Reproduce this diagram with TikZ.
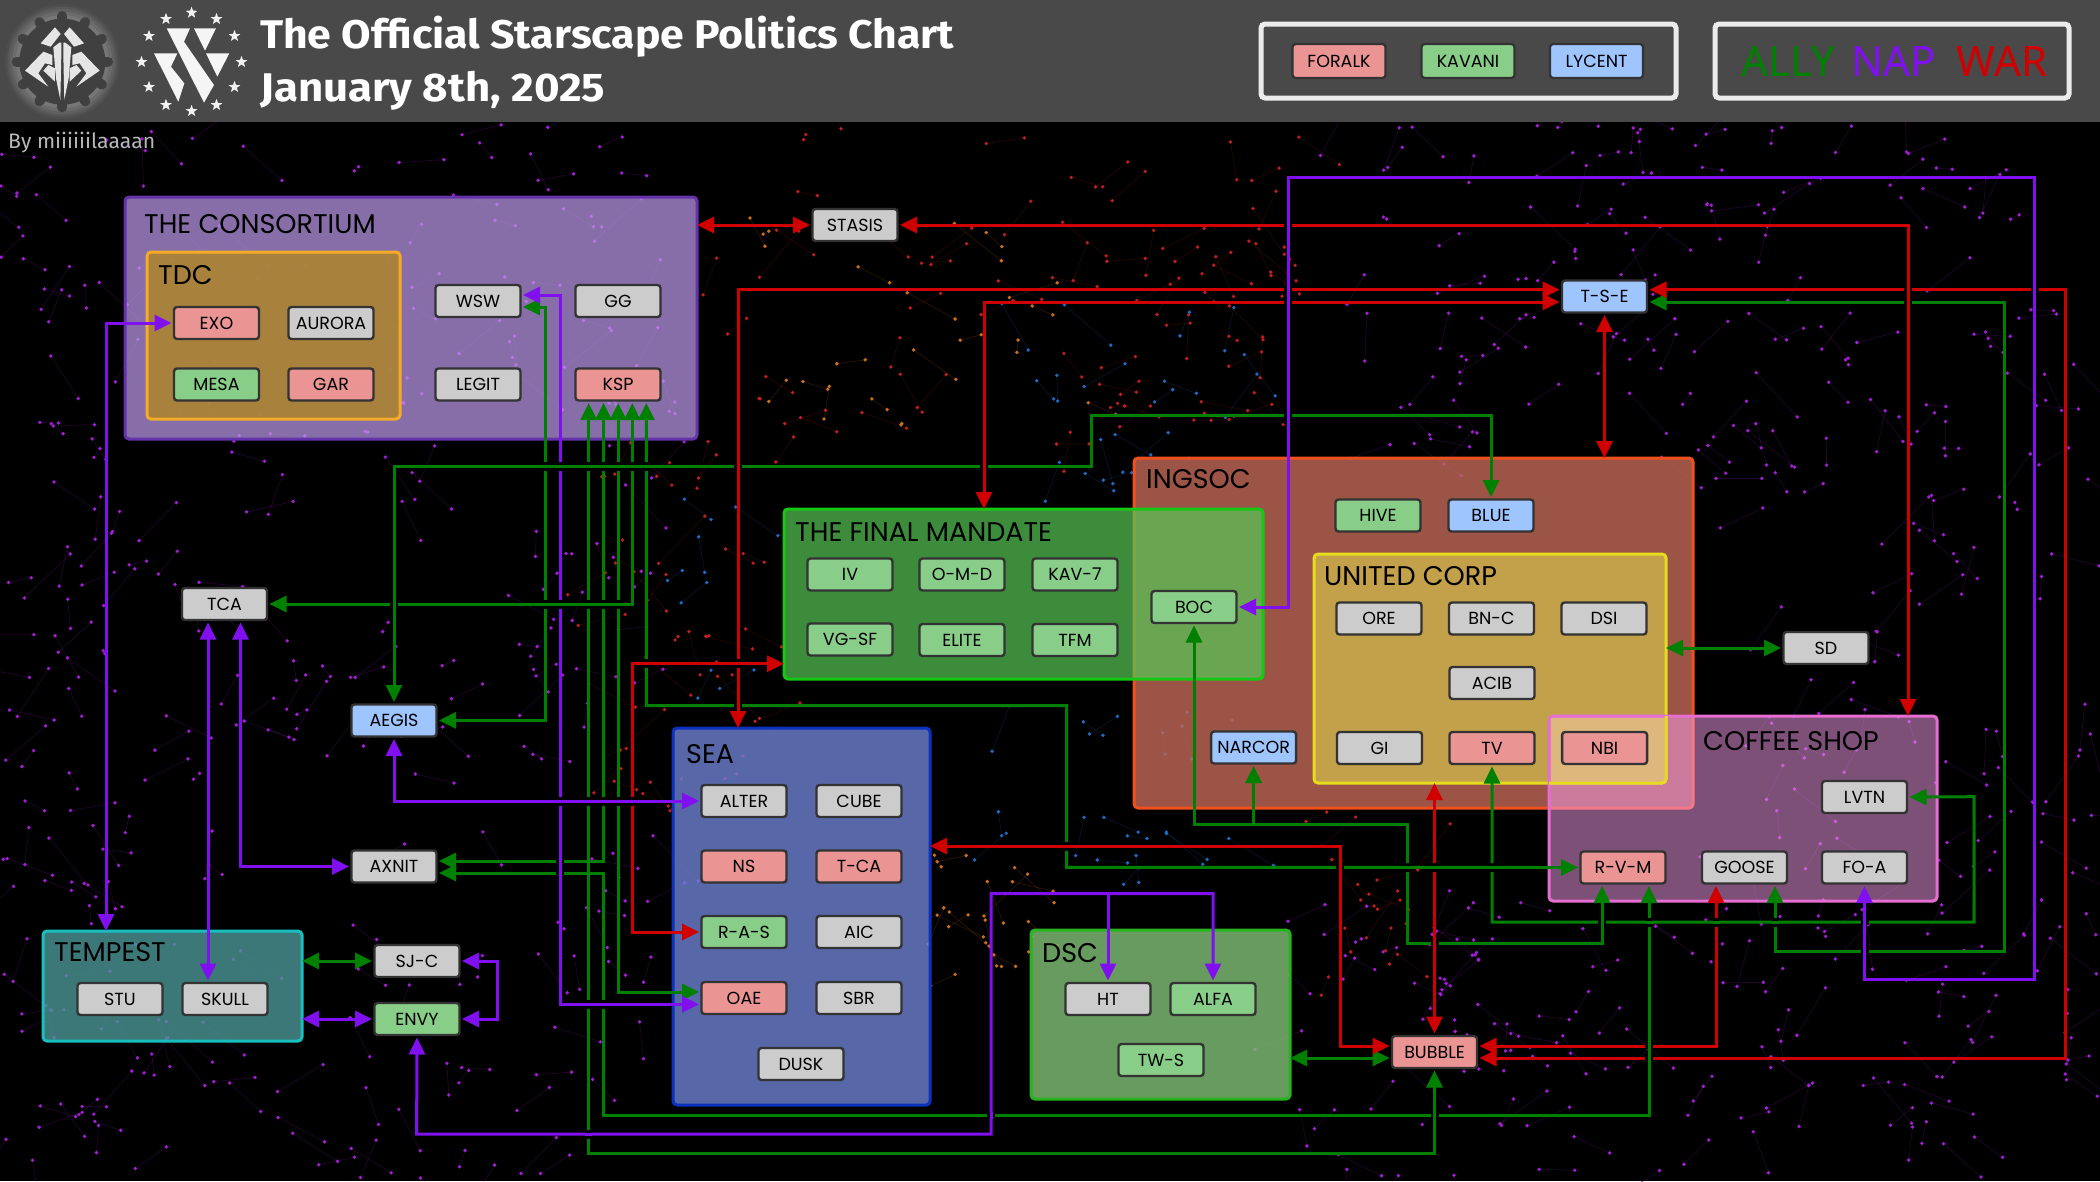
\documentclass[tikz,border=0pt]{standalone}
\usepackage{graphicx}
\usepackage{fontspec}
\setmainfont{Poppins}
\newfontfamily\titlefont{Fira Sans}
\newfontfamily\legendfont{Noto Sans}
\usetikzlibrary{arrows.meta,calc}
\pgfdeclarelayer{bgl}
\pgfdeclarelayer{conn}
\pgfsetlayers{bgl,conn,main}
\definecolor{cally}{RGB}{0,128,0}
\definecolor{cnap}{RGB}{128,16,240}
\definecolor{cwar}{RGB}{208,0,0}
\definecolor{nodegrey}{RGB}{204,204,204}
\definecolor{nodered}{RGB}{234,148,148}
\definecolor{nodegreen}{RGB}{136,206,136}
\definecolor{nodeblue}{RGB}{159,197,255}
\definecolor{edgedark}{RGB}{51,51,51}
\definecolor{headerbg}{RGB}{73,73,73}
\definecolor{dotpurple}{RGB}{165,28,215}
\definecolor{dotred}{RGB}{190,30,30}
\definecolor{dotorange}{RGB}{205,110,25}
\definecolor{dotblue}{RGB}{30,105,195}
\tikzset{
 box/.style={draw=edgedark,line width=2.4pt,rounded corners=3pt,minimum width=85pt,minimum height=32pt,inner sep=0pt,outer sep=2.5pt,text=black,font=\fontsize{17.5}{21}\selectfont},
 grey/.style={box,fill=nodegrey},
 red/.style={box,fill=nodered},
 green/.style={box,fill=nodegreen},
 blue/.style={box,fill=nodeblue},
 grp/.style={rounded corners=4pt,line width=3pt,inner sep=0pt,outer sep=0pt,anchor=north west},
 grplabel/.style={anchor=west,inner sep=0pt,text=black,font=\fontsize{27}{32}\selectfont},
 conn/.style={line width=3pt,arrows={Triangle[length=17pt,width=16pt]-Triangle[length=17pt,width=16pt]}},
 ally/.style={conn,draw=cally},
 nap/.style={conn,draw=cnap},
 war/.style={conn,draw=cwar},
 tipend/.style={line width=3pt,arrows={-Triangle[length=17pt,width=16pt]}},
 legendbox/.style={draw=white!92!black,line width=5pt,rounded corners=4pt,outer sep=0pt},
}
\newcommand\vgap[3]{\fill[black] (#1-2.6,#2-4.5) rectangle (#1+2.6,#2+4.5); \draw[line width=3pt,#3] (#1-3.5,#2) -- (#1+3.5,#2);}
\newcommand\hgap[3]{\fill[black] (#1-4,#2-2.6) rectangle (#1+4,#2+2.6); \draw[line width=3pt,#3] (#1,#2-3.5) -- (#1,#2+3.5);}
\newcommand\scatterpts[6]{\foreach \i in {1,...,#6}{%
  \pgfmathsetmacro\dax{#2+rnd*#4}\pgfmathsetmacro\day{#3+rnd*#5}%
  \pgfmathsetmacro\dbx{\dax+rand*48}\pgfmathsetmacro\dby{\day+rand*48}%
  \draw[#1,opacity=.2,line width=.7pt] (\dax,\day) -- (\dbx,\dby);
  \fill[#1] (\dax,\day) circle (1.9); \fill[#1] (\dbx,\dby) circle (1.9);}}
\newcommand\starmark[2]{\fill[white!95!black] (#1,#2) +(-90:6.2) -- +(-54:2.5) -- +(-18:6.2) -- +(18:2.5) -- +(54:6.2) -- +(90:2.5) -- +(126:6.2) -- +(162:2.5) -- +(198:6.2) -- +(234:2.5) -- cycle;}
\begin{document}
\begin{tikzpicture}[x=1pt,y=-1pt]
\useasboundingbox (0,0) rectangle (2100,1181);
\begin{pgfonlayer}{bgl}
\fill[black] (0,0) rectangle (2100,1181);
\pgfmathsetseed{2025}
\scatterpts{dotpurple}{0}{125}{120}{1050}{70}
\scatterpts{dotpurple}{120}{125}{560}{330}{60}
\scatterpts{dotpurple}{100}{450}{560}{730}{120}
\scatterpts{dotpurple}{1290}{125}{800}{330}{110}
\scatterpts{dotpurple}{1700}{450}{400}{500}{65}
\scatterpts{dotpurple}{1300}{900}{800}{280}{110}
\scatterpts{dotred}{700}{125}{600}{320}{50}
\scatterpts{dotred}{1080}{250}{220}{200}{22}
\scatterpts{dotred}{600}{440}{180}{400}{32}
\scatterpts{dotred}{1300}{810}{120}{170}{14}
\scatterpts{dotorange}{760}{230}{330}{200}{18}
\scatterpts{dotorange}{930}{850}{110}{130}{16}
\scatterpts{dotblue}{1000}{290}{280}{190}{18}
\scatterpts{dotblue}{660}{480}{120}{220}{7}
\scatterpts{dotblue}{980}{720}{340}{170}{18}
\fill[headerbg] (0,0) rectangle (2100,122);
% groups
\node[grp,draw={rgb,255:red,100;green,50;blue,170},fill={rgb,255:red,193;green,157;blue,240},fill opacity=.7,minimum width=572pt,minimum height=242pt] (consortium) at (125,197) {};
\node[grp,draw={rgb,255:red,245;green,170;blue,40},fill={rgb,255:red,172;green,132;blue,50},fill opacity=.9,minimum width=253pt,minimum height=167pt] (tdc) at (147,252) {};
\node[grp,draw={rgb,255:red,10;green,50;blue,190},fill={rgb,255:red,110;green,129;blue,210},fill opacity=.8,minimum width=257pt,minimum height=377pt] (sea) at (673,728) {};
\node[grp,draw={rgb,255:red,240;green,80;blue,30},fill={rgb,255:red,194;green,106;blue,88},fill opacity=.8,minimum width=559pt,minimum height=350pt] (ingsoc) at (1134,458) {};
\node[grp,draw={rgb,255:red,230;green,220;blue,30},fill={rgb,255:red,205;green,179;blue,76},fill opacity=.8,minimum width=352pt,minimum height=229pt] (uc) at (1314,554) {};
\node[grp,draw={rgb,255:red,20;green,200;blue,20},fill={rgb,255:red,86;green,200;blue,86},fill opacity=.7,minimum width=479pt,minimum height=170pt] (fm) at (784,509) {};
\node[grp,draw={rgb,255:red,230;green,110;blue,210},fill={rgb,255:red,250;green,160;blue,240},fill opacity=.5,minimum width=388pt,minimum height=185pt] (coffee) at (1549,716) {};
\fill[fill={rgb,255:red,222;green,183;blue,125}] (1551,718) rectangle (1664,781);
\draw[line width=3pt,draw={rgb,255:red,230;green,220;blue,30},rounded corners=4pt] (1666,716) -- (1666,783) -- (1549,783);
\node[grp,draw={rgb,255:red,40;green,180;blue,30},fill={rgb,255:red,131;green,194;blue,119},fill opacity=.8,minimum width=259pt,minimum height=169pt] (dsc) at (1031,930) {};
\node[grp,draw={rgb,255:red,25;green,190;blue,190},fill={rgb,255:red,75;green,150;blue,150},fill opacity=.8,minimum width=259pt,minimum height=110pt] (tempest) at (43,931) {};
\end{pgfonlayer}
% header
\node[text=white,anchor=base west,inner sep=0pt] (title1) at (260,48) {\resizebox{694pt}{\height}{\titlefont\fontsize{40}{44}\selectfont\bfseries The Official Starscape Politics Chart}};
\node[text=white,anchor=base west,inner sep=0pt] (title2) at (260,101) {\resizebox{345pt}{\height}{\titlefont\fontsize{40}{44}\selectfont\bfseries January 8th, 2025}};
\node[text=white!72!black,anchor=base west,inner sep=0pt] (byline) at (8,148) {\resizebox{147pt}{\height}{\titlefont\fontsize{21}{24}\selectfont By miiiiiilaaaan}};
% logos
\begin{scope}[x=.33333pt,y=-.33333pt]
\foreach \r/\o in {172/.03,165/.05,158/.06,150/.07,140/.08}{\fill[white,opacity=\o] (187,185) circle (\r*.33333pt);}
\fill[white!25!black] (187,185) circle (129*.33333pt);
\foreach \a in {0,30,...,330}{\draw[white!25!black,line width=10pt,line cap=round] ($(187,185)+(\a:120)$) -- ($(187,185)+(\a:137)$);}
\fill[white!90!black] (165,82) -- (182,102) -- (152,140) -- (122,130) -- cycle;
\fill[white!90!black] (209,82) -- (192,102) -- (222,140) -- (252,130) -- cycle;
\fill[white!90!black] (160,142) -- (178,128) -- (184,128) -- (184,165) -- (181,300) -- (168,235) -- cycle;
\fill[white!90!black] (214,142) -- (196,128) -- (190,128) -- (190,165) -- (193,300) -- (206,235) -- cycle;
\fill[white!90!black] (75,212) -- (130,155) -- (157,165) -- (157,195) -- (135,190) -- (115,220) -- (145,260) -- cycle;
\fill[white!90!black] (299,212) -- (244,155) -- (217,165) -- (217,195) -- (239,190) -- (259,220) -- (229,260) -- cycle;
\fill[white!90!black] (130,212) -- (145,195) -- (165,205) -- (165,245) -- cycle;
\fill[white!90!black] (244,212) -- (229,195) -- (209,205) -- (209,245) -- cycle;
\fill[white!96!black] (462,160) -- (532,160) -- (513,200) -- (553,250) -- (535,305) -- cycle;
\fill[white!96!black] (500,85) -- (570,85) -- (552,125) -- (642,255) -- (612,308) -- cycle;
\fill[white!96!black] (582,85) -- (648,85) -- (615,152) -- cycle;
\fill[white!96!black] (618,160) -- (688,160) -- (652,230) -- cycle;
\end{scope}
\starmark{191.6}{12.7}\starmark{166}{19}\starmark{216.5}{19}\starmark{149}{36}\starmark{234.5}{36}\starmark{141.5}{62}\starmark{241.5}{62}\starmark{149}{87}\starmark{234.5}{87}\starmark{166}{105}\starmark{216.5}{105}\starmark{191.6}{111}
% legend
\node[legendbox,minimum width=415pt,minimum height=74pt,anchor=north west,inner sep=0pt] (legend1) at (1261,24) {};
\node[legendbox,minimum width=354pt,minimum height=74pt,anchor=north west,inner sep=0pt] (legend2) at (1715,24) {};
\node[red,minimum width=93pt,minimum height=34pt] (lforalk) at (1339,61) {FORALK};
\node[green,minimum width=93pt,minimum height=34pt] (lkavani) at (1468,61) {KAVANI};
\node[blue,minimum width=93pt,minimum height=34pt] (llycent) at (1596.5,61) {LYCENT};
\node[text=cally,inner sep=0pt,font=\legendfont\fontsize{42}{46}\selectfont] (lally) at (1788.5,61) {ALLY};
\node[text=cnap,inner sep=0pt,font=\legendfont\fontsize{42}{46}\selectfont] (lnap) at (1894,61) {NAP};
\node[text=cwar,inner sep=0pt,font=\legendfont\fontsize{42}{46}\selectfont] (lwar) at (2002,61) {WAR};
% group labels
\node[grplabel] (lcons) at (144,224) {THE CONSORTIUM};
\node[grplabel] (ltdc) at (158,275) {TDC};
\node[grplabel] (lfm) at (795,532) {THE FINAL MANDATE};
\node[grplabel] (ling) at (1146,479) {INGSOC};
\node[grplabel] (luc) at (1324,576) {UNITED CORP};
\node[grplabel] (lcof) at (1703,741) {COFFEE SHOP};
\node[grplabel] (lsea) at (686,754) {SEA};
\node[grplabel] (ldsc) at (1042,953) {DSC};
\node[grplabel] (ltem) at (54,952) {TEMPEST};
% nodes
\node[red] (exo) at (216.5,323) {EXO};
\node[grey] (aurora) at (331,323) {AURORA};
\node[green] (mesa) at (216.5,384.5) {MESA};
\node[red] (gar) at (331,384.5) {GAR};
\node[grey] (wsw) at (478,301) {WSW};
\node[grey] (gg) at (618,301) {GG};
\node[grey] (legit) at (478,384.5) {LEGIT};
\node[red] (ksp) at (618,384.5) {KSP};
\node[grey] (stasis) at (855,225) {STASIS};
\node[blue] (tse) at (1604.5,296.5) {T-S-E};
\node[grey] (tca) at (224.5,604) {TCA};
\node[blue] (aegis) at (394,720.5) {AEGIS};
\node[grey] (axnit) at (394,866.5) {AXNIT};
\node[grey] (alter) at (744,801) {ALTER};
\node[grey] (cube) at (859,801) {CUBE};
\node[red] (ns) at (744,866.5) {NS};
\node[red] (tca2) at (859,866.5) {T-CA};
\node[green] (ras) at (744,932) {R-A-S};
\node[grey] (aic) at (859,932) {AIC};
\node[red] (oae) at (744,998) {OAE};
\node[grey] (sbr) at (859,998) {SBR};
\node[grey] (dusk) at (801,1064) {DUSK};
\node[grey] (stu) at (120,999) {STU};
\node[grey] (skull) at (225,999) {SKULL};
\node[grey] (sjc) at (417,961) {SJ-C};
\node[green] (envy) at (417,1019) {ENVY};
\node[green] (iv) at (850,574.5) {IV};
\node[green] (omd) at (962,574.5) {O-M-D};
\node[green] (kav) at (1075,574.5) {KAV-7};
\node[green] (vgsf) at (850,639.5) {VG-SF};
\node[green] (elite) at (962,640) {ELITE};
\node[green] (tfm) at (1075,640) {TFM};
\node[green] (boc) at (1194,607) {BOC};
\node[green] (hive) at (1378,515.5) {HIVE};
\node[blue] (blue) at (1491,515.5) {BLUE};
\node[grey] (ore) at (1379,618.5) {ORE};
\node[grey] (bnc) at (1491.5,618.5) {BN-C};
\node[grey] (dsi) at (1604,618.5) {DSI};
\node[grey] (acib) at (1492,683) {ACIB};
\node[blue] (narcor) at (1253.6,747.5) {NARCOR};
\node[grey] (gi) at (1379.5,748) {GI};
\node[red] (tv) at (1492,748) {TV};
\node[red] (nbi) at (1604.6,748) {NBI};
\node[grey] (sd) at (1826,648) {SD};
\node[grey] (lvtn) at (1864.5,797) {LVTN};
\node[red] (rvm) at (1623,867.5) {R-V-M};
\node[grey] (goose) at (1744.5,867.5) {GOOSE};
\node[grey] (foa) at (1864.5,867.5) {FO-A};
\node[grey] (ht) at (1108,999) {HT};
\node[green] (alfa) at (1213,999) {ALFA};
\node[green] (tws) at (1161,1060) {TW-S};
\node[red] (bubble) at (1434.5,1052) {BUBBLE};
% connectors
\begin{pgfonlayer}{conn}
\draw[ally] (ksp.south -| 588.7,0) -- (588.7,1153) -- (1434.5,1153) -- (bubble.south);
\draw[ally] (ksp.south -| 603.5,0) -- (603.5,861) -- (axnit.east |- 0,861);
\draw[ally] (axnit.east |- 0,873) -- (603.5,873) -- (603.5,1115.6) -- (1649,1115.6) -- (rvm.south -| 1649,0);
\draw[ally] (ksp.south -| 618.2,0) -- (618.2,992) -- (oae.west |- 0,992);
\draw[ally] (ksp.south -| 632.3,0) -- (632.3,604) -- (tca.east);
\draw[ally] (ksp.south -| 646.4,0) -- (646.4,705.7) -- (1066.7,705.7) -- (1066.7,867.3) -- (rvm.west);
\draw[ally] (aegis.north) -- (394,466) -- (1091,466) -- (1091,415) -- (1491,415) -- (blue.north);
\draw[ally] (wsw.east |- 0,307) -- (545,307) -- (545,720.4) -- (aegis.east |- 0,720.4);
\draw[nap] (wsw.east |- 0,295) -- (560,295) -- (560,1004.4) -- (oae.west |- 0,1004.4);
\draw[nap] (exo.west) -- (106,323) -- (tempest.north -| 106,0);
\draw[war] (sea.north -| 738,0) -- (738,289.7) -- (tse.west |- 0,289.7);
\draw[war] (fm.north -| 984,0) -- (984,302) -- (tse.west |- 0,302);
\draw[war] (fm.west |- 0,663.7) -- (632.3,663.7) -- (632.3,932) -- (ras.west);
\draw[war] (consortium.east |- stasis.west) -- (stasis.west);
\draw[war] (stasis.east) -- (1908,225) -- (coffee.north -| 1908,0);
\draw[ally] (tse.east |- 0,302) -- (2004.5,302) -- (2004.5,951) -- (1775,951) -- (goose.south -| 1775,0);
\draw[war] (tse.east |- 0,289.7) -- (2065.4,289.7) -- (2065.4,1058) -- (bubble.east |- 0,1058);
\draw[war] (tse.south) -- (ingsoc.north -| tse.south);
\draw[nap] (tca.south -| 208,0) -- (skull.north -| 208,0);
\draw[nap] (tca.south -| 240.5,0) -- (240.5,866.5) -- (axnit.west);
\draw[nap] (aegis.south) -- (394,801) -- (alter.west);
\draw[ally] (tempest.east |- sjc.west) -- (sjc.west);
\draw[nap] (tempest.east |- envy.west) -- (envy.west);
\draw[nap] (sjc.east) -- (497.6,961) -- (497.6,1019) -- (envy.east);
\draw[nap] (envy.south) -- (416.6,1134) -- (991,1134) -- (991,893.5) -- (1213,893.5) -- (alfa.north);
\coordinate (htbranch) at (1108,893.5);
\draw[tipend,draw=cnap] (htbranch) -- (ht.north);
\draw[ally] (dsc.east |- 0,1058) -- (bubble.west |- 0,1058);
\draw[war] (sea.east |- 0,846) -- (1340,846) -- (1340,1046) -- (bubble.west |- 0,1046);
\draw[war] (bubble.east |- 0,1046) -- (1716,1046) -- (goose.south -| 1716,0);
\draw[war] (bubble.north) -- (uc.south -| bubble.north);
\draw[ally] (boc.south) -- (1194,824) -- (1407.7,824) -- (1407.7,943.7) -- (1602,943.7) -- (rvm.south -| 1602,0);
\coordinate (narbranch) at (1253.6,824);
\draw[tipend,draw=cally] (narbranch) -- (narcor.south);
\draw[ally] (tv.south) -- (1492,922) -- (1974,922) -- (1974,796.7) -- (lvtn.east);
\draw[nap] (foa.south) -- (1864.5,979) -- (2034.6,979) -- (2034.6,177.7) -- (1288.4,177.7) -- (1288.4,607) -- (boc.east);
\draw[ally] (uc.east |- sd.west) -- (sd.west);
% crossings: vertical line broken
\foreach \x in {545,560,588.7,603.5,618.2,632.3,646.4}{\vgap{\x}{466}{cally}}
\foreach \x in {545,560,588.7,603.5,618.2}{\vgap{\x}{604}{cally}}
\vgap{646.4}{663.7}{cwar}\vgap{738}{663.7}{cwar}
\foreach \x in {560,588.7,603.5,618.2,632.3}{\vgap{\x}{801}{cnap}}
\foreach \x in {588.7,603.5}{\vgap{\x}{1004.4}{cnap}}
\vgap{588.7}{1134}{cnap}
\vgap{1066.7}{846}{cwar}
\foreach \x in {1407.7,1434.5,1492}{\vgap{\x}{867.3}{cally}}
\foreach \x in {1649,1716,1775}{\vgap{\x}{922}{cally}}
% crossings: horizontal line broken
\foreach \y in {225,289.7,302,415}{\hgap{1288.4}{\y}{cnap}}
\foreach \y in {289.7,302}{\hgap{1908}{\y}{cwar}}
\hgap{2034.6}{289.7}{cnap}
\hgap{738}{466}{cwar}\hgap{984}{466}{cwar}\hgap{738}{705.7}{cwar}
\hgap{394}{604}{cally}
\hgap{560}{861}{cnap}\hgap{560}{873}{cnap}
\hgap{991}{1115.6}{cnap}\hgap{1434.5}{1115.6}{cally}
\hgap{1340}{867.3}{cwar}
\hgap{1434.5}{943.7}{cwar}
\hgap{1602}{922}{cally}\hgap{1864.5}{922}{cnap}\hgap{1864.5}{951}{cnap}
\hgap{1649}{1046}{cally}\hgap{1649}{1058}{cally}
\end{pgfonlayer}
\end{tikzpicture}
\end{document}
